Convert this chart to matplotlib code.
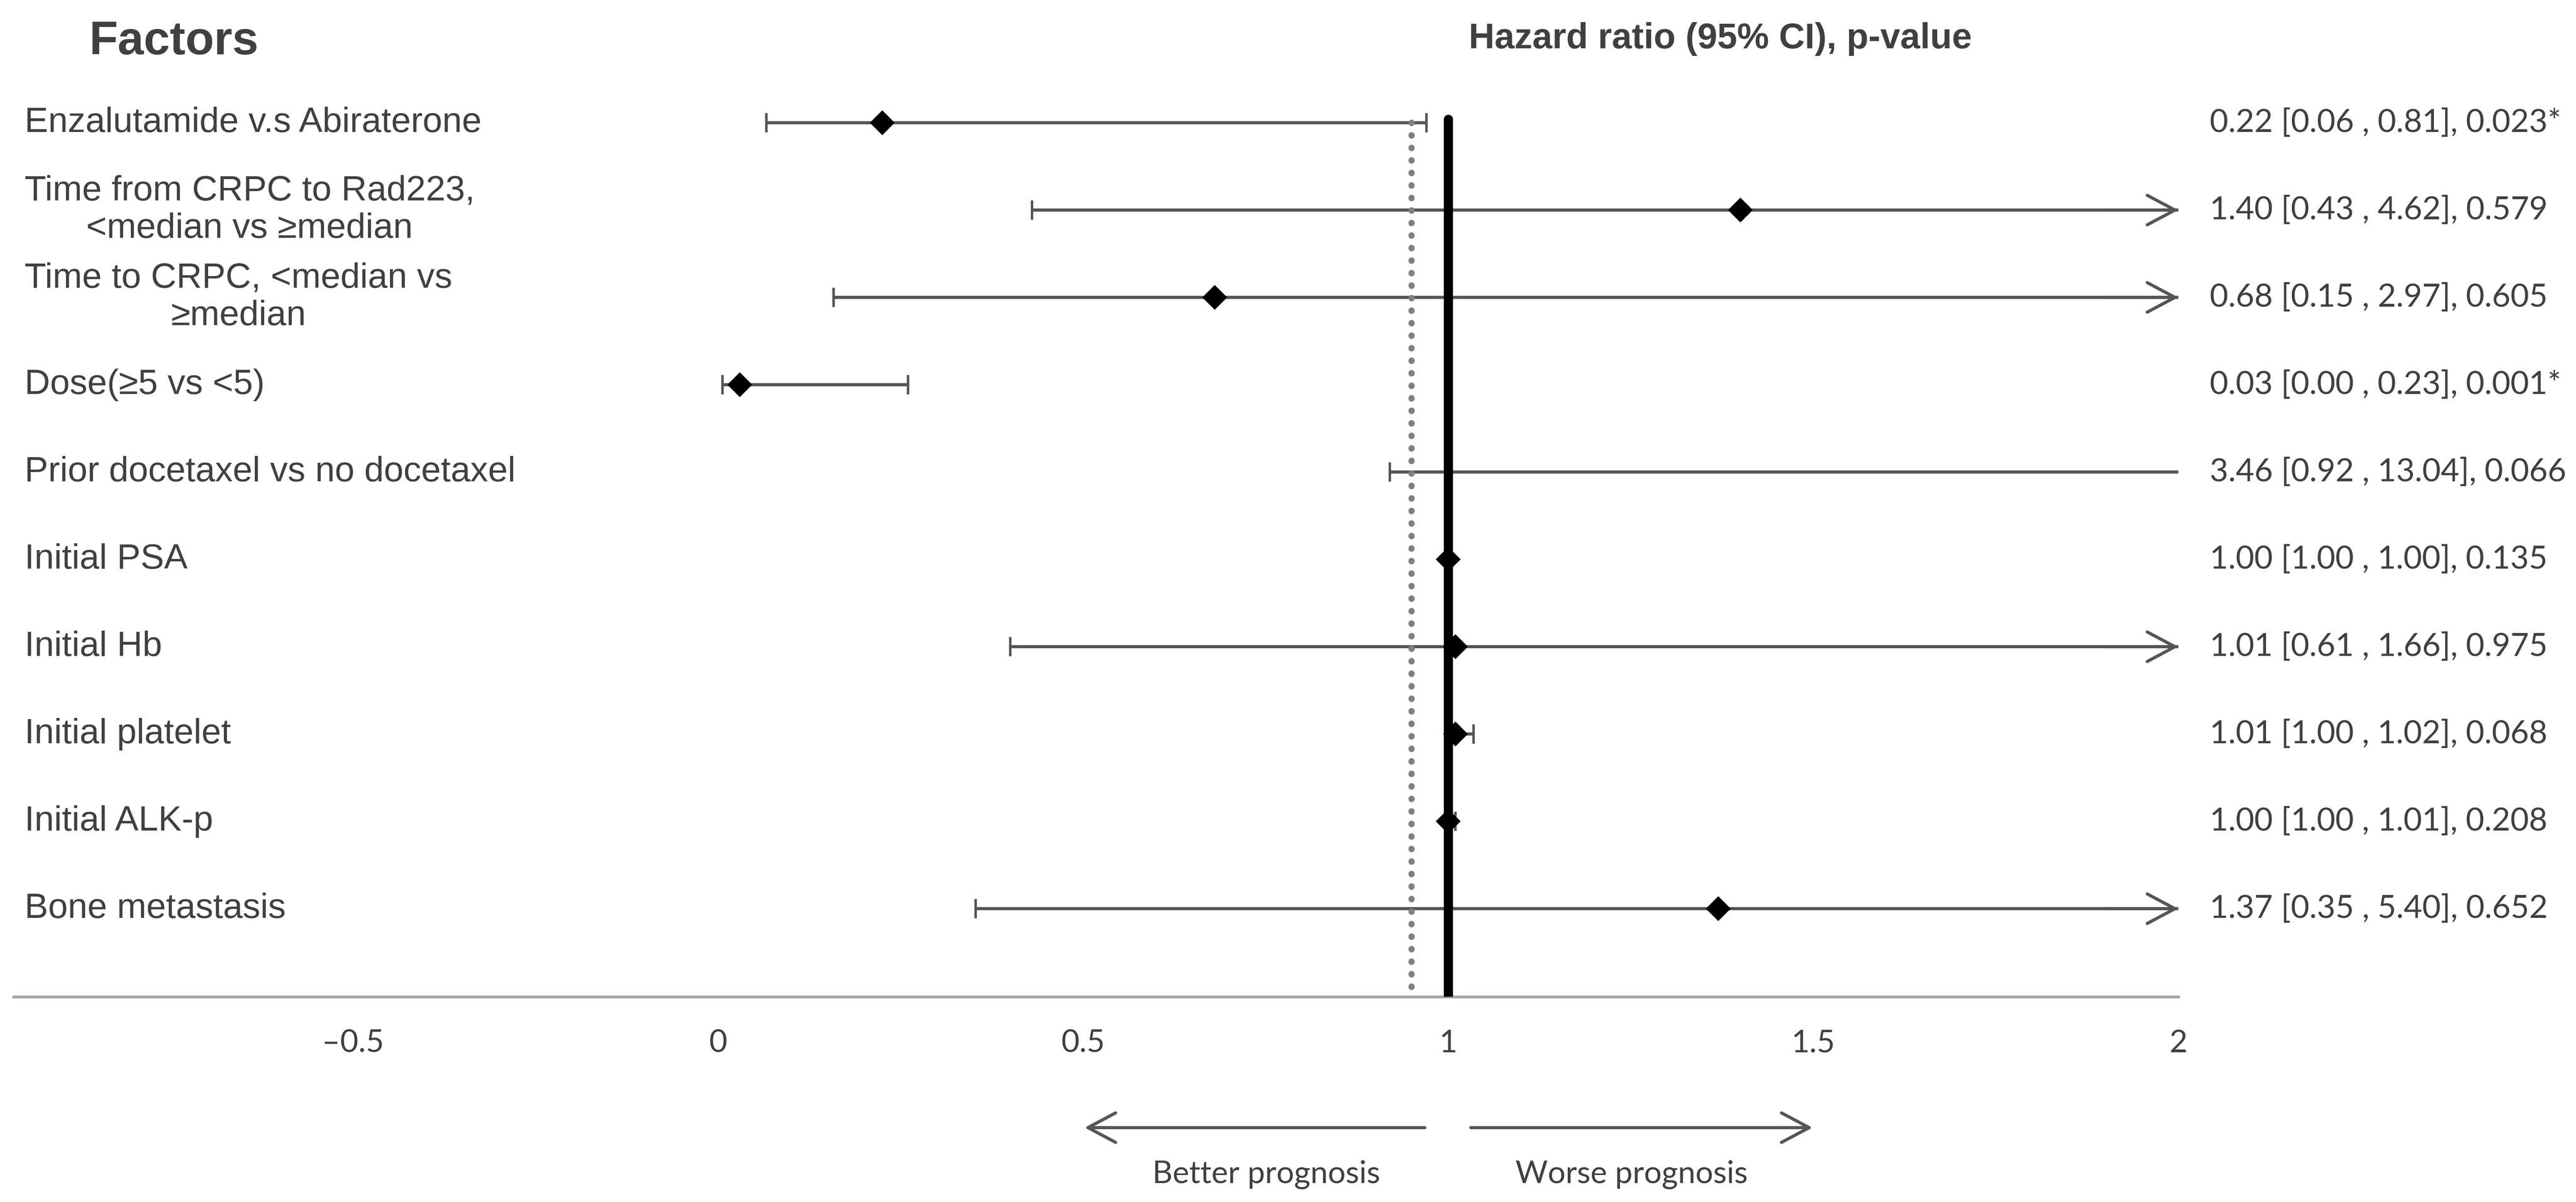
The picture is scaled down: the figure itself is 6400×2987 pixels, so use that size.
"""
Forest plot of hazard ratios (95% CI) for prognostic factors
"""

import numpy as np
import matplotlib.pyplot as plt

# row labels (top to bottom)
factors = ['Enzalutamide v.s Abiraterone',
           'Time from CRPC to Rad223,\n<median vs \u2265median',
           'Time to CRPC, <median vs\n\u2265median',
           'Dose(\u22655 vs <5)',
           'Prior docetaxel vs no docetaxel',
           'Initial PSA',
           'Initial Hb',
           'Initial platelet',
           'Initial ALK-p',
           'Bone metastasis']

# printed results column
results = ['0.22 [0.06 , 0.81], 0.023*',
           '1.40 [0.43 , 4.62], 0.579',
           '0.68 [0.15 , 2.97], 0.605',
           '0.03 [0.00 , 0.23], 0.001*',
           '3.46 [0.92 , 13.04], 0.066',
           '1.00 [1.00 , 1.00], 0.135',
           '1.01 [0.61 , 1.66], 0.975',
           '1.01 [1.00 , 1.02], 0.068',
           '1.00 [1.00 , 1.01], 0.208',
           '1.37 [0.35 , 5.40], 0.652']

# values as drawn in the plot
hr = [0.225, 1.40, 0.68, 0.03, 3.46, 1.00, 1.01, 1.01, 1.00, 1.37]
ci_low = [0.066, 0.43, 0.158, 0.006, 0.92, 1.00, 0.40, 1.00, 1.00, 0.353]
ci_high = [0.97, 4.62, 2.97, 0.26, 13.04, 1.00, 1.66, 1.035, 1.01, 5.40]
# rows whose CI line ends in an open arrow at the right edge
arrow_right = [False, True, True, False, False, False, True, False, False, True]

xticks = [-0.5, 0, 0.5, 1, 1.5, 2]
xtick_labels = ['\u20130.5', '0', '0.5', '1', '1.5', '2']
ref_dotted = 0.95

# colours / fonts
txt_clr = '#404040'
ci_clr = '#555555'
arial = ['Liberation Sans', 'DejaVu Sans']
calib = ['Lato', 'DejaVu Sans']

plt.close('all')
fig = plt.figure(figsize=(16, 7.4675), dpi=400)
ax = fig.add_axes([0, 0.1707, 1, 0.8293])
ax.set_xlim(-0.9835, 2.5447)
ax.set_ylim(10.009, -1.4055)

rows = np.arange(len(factors))
xmax = 2.0
ci_end = [xmax if (a or h > xmax) else h for a, h in zip(arrow_right, ci_high)]

# CI lines
ax.hlines(rows, ci_low, ci_end, color=ci_clr, lw=1.4, zorder=2)
# lower caps
ax.plot(ci_low, rows, ls='none', marker='|', ms=8.6, mew=1.1, color=ci_clr, zorder=2)
# upper caps where the CI ends inside the plot
cap_hi = [(h, r) for h, r, a in zip(ci_high, rows, arrow_right) if (not a) and h <= xmax]
ax.plot([c[0] for c in cap_hi], [c[1] for c in cap_hi], ls='none', marker='|',
        ms=8.6, mew=1.1, color=ci_clr, zorder=2)
# open arrow heads
for r, a in zip(rows, arrow_right):
    if a:
        ax.annotate('', xy=(xmax, r), xytext=(xmax - 0.1, r),
                    arrowprops=dict(arrowstyle='->,head_length=12.4,head_width=6.6',
                                    mutation_scale=1, lw=1.4, color=ci_clr,
                                    shrinkA=0, shrinkB=0))

# reference lines
ax.plot([ref_dotted, ref_dotted], [0.0, 10.0], color='#808080', lw=2.8,
        dashes=(0.05, 1.95), dash_capstyle='round', zorder=3)
ax.plot([1, 1], [-0.04, 10.0], color='black', lw=4.1, solid_capstyle='round', zorder=4)

# hazard ratio diamonds
ax.plot(hr, rows, ls='none', marker='D', ms=6.8, color='black', zorder=5)

# axis styling
for s in ['top', 'right', 'left']:
    ax.spines[s].set_visible(False)
ax.spines['bottom'].set_bounds(-0.965, 2)
ax.spines['bottom'].set_color('#a6a6a6')
ax.spines['bottom'].set_linewidth(1.3)
ax.set_yticks([])
ax.set_xticks(xticks)
ax.set_xticklabels(xtick_labels, family=calib, fontsize=14, color=txt_clr)
ax.tick_params(axis='x', length=0, pad=14.5)

# left labels and right results
for r in rows:
    ax.text(-0.95, r, factors[r], ha='left', va='center', multialignment='center',
            fontsize=15.8, color=txt_clr, family=arial)
    ax.text(2.043, r, results[r], ha='left', va='center', fontsize=14.3,
            color=txt_clr, family=calib)

# column headers
ax.text(-0.8617, -0.783, 'Factors', ha='left', va='baseline', fontsize=21,
        fontweight='bold', color=txt_clr, family=arial)
ax.text(1.028, -0.853, 'Hazard ratio (95% CI), p-value', ha='left', va='baseline',
        fontsize=16, fontweight='bold', color=txt_clr, family=arial)

# prognosis arrows under the axis
y_arr = 11.507
ax.annotate('', xy=(0.502, y_arr), xytext=(0.968, y_arr), annotation_clip=False,
            arrowprops=dict(arrowstyle='->,head_length=12.4,head_width=6.6',
                            mutation_scale=1, lw=1.4, color=ci_clr, shrinkA=0, shrinkB=0))
ax.annotate('', xy=(1.499, y_arr), xytext=(1.031, y_arr), annotation_clip=False,
            arrowprops=dict(arrowstyle='->,head_length=12.4,head_width=6.6',
                            mutation_scale=1, lw=1.4, color=ci_clr, shrinkA=0, shrinkB=0))
ax.text(0.751, 12.138, 'Better prognosis', ha='center', va='baseline', fontsize=14,
        color=txt_clr, family=calib)
ax.text(1.251, 12.138, 'Worse prognosis', ha='center', va='baseline', fontsize=14,
        color=txt_clr, family=calib)

fig.savefig('out.png', dpi=400, facecolor='white')
